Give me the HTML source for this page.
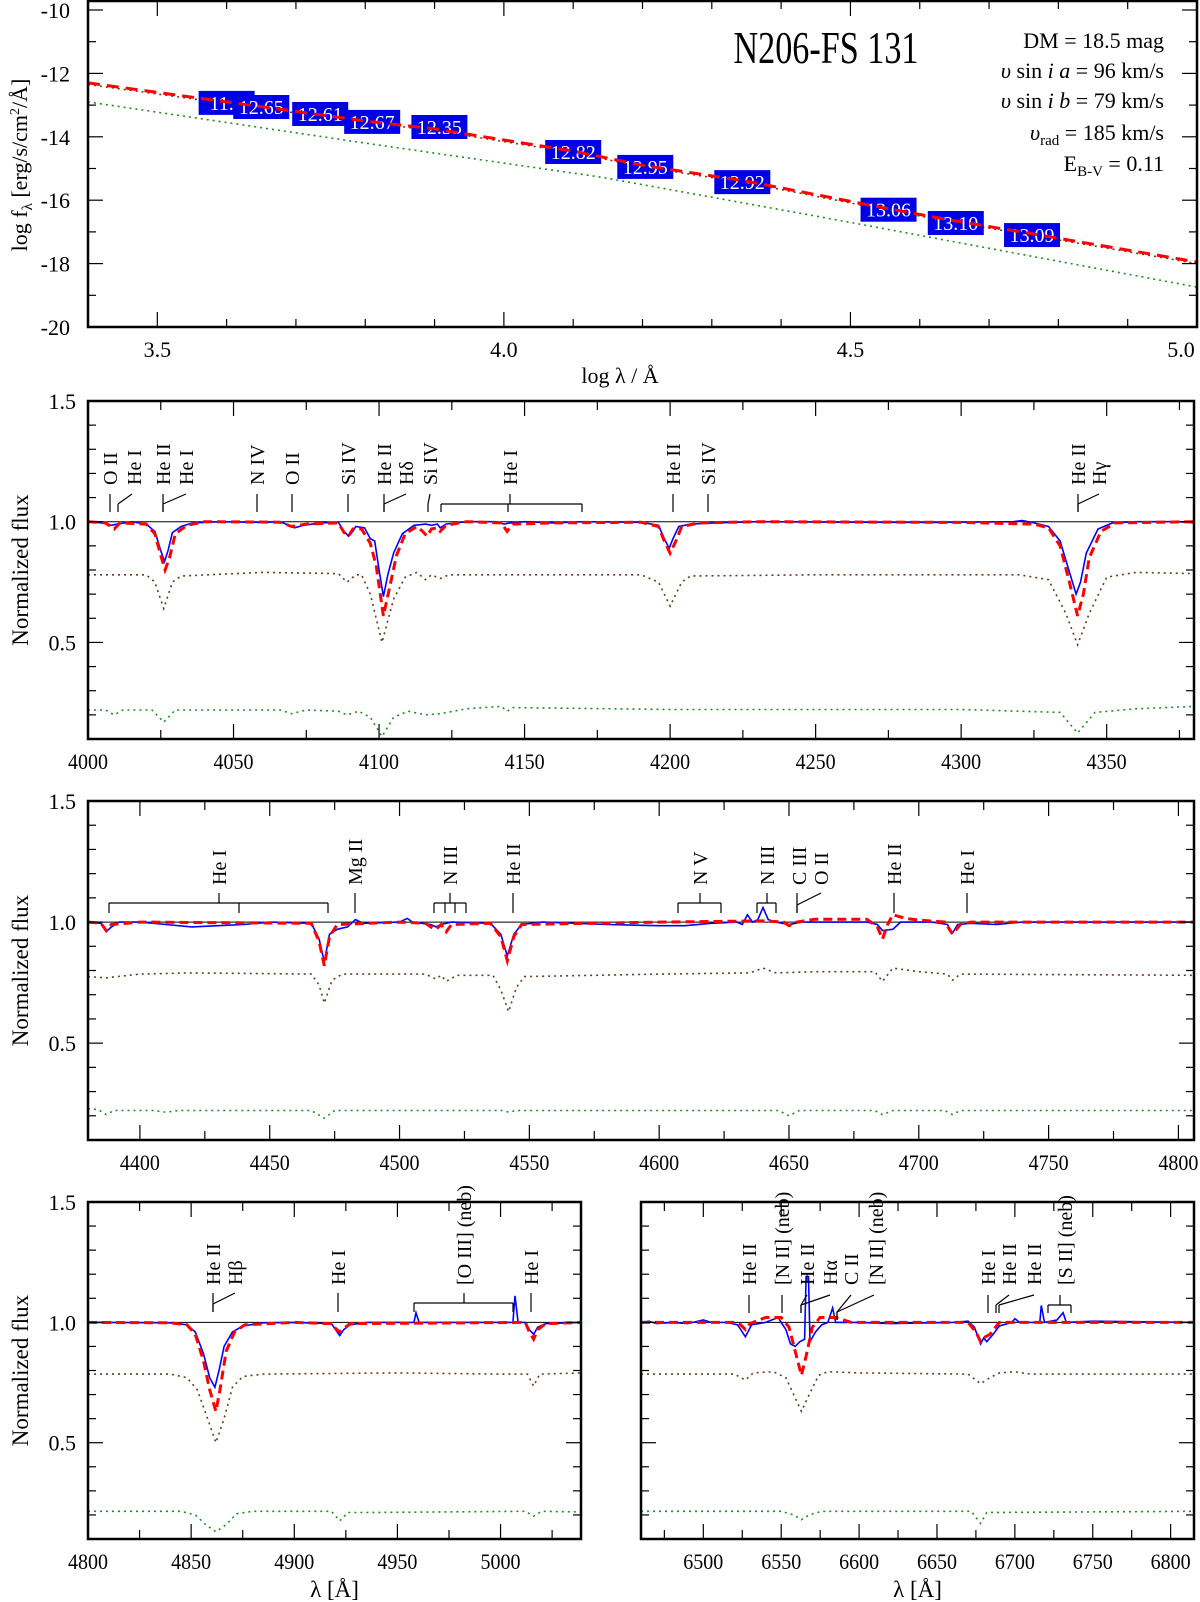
<!DOCTYPE html>
<html><head><meta charset="utf-8"><style>
html,body{margin:0;padding:0;background:#fff;}
svg{display:block;}
svg text{font-family:"Liberation Serif","DejaVu Serif",serif;}
</style></head><body>
<svg id="fig" xmlns="http://www.w3.org/2000/svg" width="1200" height="1602" viewBox="0 0 1200 1602" font-family="Liberation Serif, serif"></svg>
<script>
// ---------- SED panel data ----------
const sedLogLam = [3.4, 3.6, 3.8, 3.9, 4.1, 4.2, 4.35, 4.55, 4.65, 4.76, 5.0];
const sedModel = [-12.3, -12.9, -13.5, -13.75, -14.45, -14.9, -15.4, -16.25, -16.65, -17.05, -17.95];
const sedStarA = [-12.35, -12.95, -13.55, -13.8, -14.5, -14.95, -15.45, -16.3, -16.7, -17.1, -18.0];
const sedStarBLogLam = [3.4, 3.8, 4.14, 4.5, 5.0];
const sedStarB = [-12.9, -14.2, -15.27, -16.7, -18.74];
const photLogLam = [3.6, 3.65, 3.735, 3.81, 3.907, 4.10, 4.204, 4.344, 4.555, 4.652, 4.762];
const photFlux = [-12.93, -13.06, -13.28, -13.53, -13.69, -14.48, -14.95, -15.43, -16.3, -16.72, -17.1];
const photMag = ["11.7", "12.65", "12.61", "12.67", "12.35", "12.82", "12.95", "12.92", "13.06", "13.10", "13.09"];
const sedXTicks = [3.5, 4.0, 4.5, 5.0];
const sedYTicks = [-10, -12, -14, -16, -18, -20];

// ---------- Panel 2 (4000-4380) ----------
const p2Obs = [[4000,1.0],[4005,0.995],[4008,0.985],[4010,0.99],[4015,1.0],[4020,0.99],[4023,0.96],[4025,0.88],[4026.3,0.835],[4027.5,0.88],[4029,0.955],[4032,0.98],[4036,0.995],[4045,1.0],[4060,0.997],[4066,1.0],[4069,0.985],[4071,0.975],[4074,0.985],[4080,0.995],[4086,0.998],[4088,0.96],[4089.5,0.94],[4091,0.96],[4092,0.98],[4095,0.975],[4097,0.93],[4098.5,0.92],[4100,0.8],[4101.5,0.69],[4103,0.78],[4105,0.87],[4108,0.95],[4112,0.985],[4116,0.99],[4118,0.985],[4120,0.99],[4121,0.975],[4123,0.99],[4130,1.0],[4140,1.0],[4143,0.99],[4145,0.995],[4150,1.0],[4160,0.995],[4170,1.0],[4190,0.998],[4196,0.985],[4198,0.93],[4199.7,0.89],[4201,0.93],[4203,0.98],[4207,0.99],[4215,0.995],[4230,1.0],[4260,0.998],[4290,0.997],[4318,1.0],[4321,1.005],[4325,0.995],[4330,0.98],[4334,0.92],[4337,0.8],[4339.5,0.70],[4341,0.75],[4343,0.87],[4347,0.97],[4352,0.995],[4360,1.0],[4375,1.0],[4380,0.995]];
const p2Mod = [[4000,1.0],[4006,0.995],[4009,0.97],[4011,0.995],[4020,0.99],[4023,0.95],[4025,0.86],[4026.5,0.80],[4028,0.85],[4030,0.95],[4034,0.985],[4040,1.0],[4066,0.998],[4070,0.98],[4075,0.99],[4086,0.995],[4088,0.955],[4089.5,0.94],[4091,0.97],[4094,0.97],[4097,0.91],[4099,0.82],[4101.5,0.61],[4103.5,0.72],[4106,0.86],[4109,0.95],[4113,0.98],[4115,0.96],[4116.5,0.94],[4118,0.97],[4120,0.975],[4121,0.96],[4123,0.985],[4130,1.0],[4142,0.995],[4144,0.96],[4146,0.99],[4160,0.995],[4190,0.998],[4196,0.98],[4198,0.92],[4200,0.87],[4202,0.92],[4204,0.98],[4210,0.995],[4230,1.0],[4300,0.997],[4325,0.99],[4330,0.975],[4334,0.9],[4337,0.76],[4340,0.61],[4342,0.7],[4344,0.85],[4348,0.96],[4353,0.995],[4380,1.0]];
const p2Comp = [[4000,0.78],[4020,0.78],[4023,0.75],[4026,0.64],[4029,0.75],[4032,0.775],[4060,0.79],[4086,0.785],[4089,0.75],[4092,0.78],[4094,0.78],[4097,0.70],[4101,0.50],[4105,0.68],[4109,0.77],[4113,0.79],[4116,0.76],[4118,0.78],[4121,0.765],[4124,0.78],[4190,0.78],[4196,0.75],[4200,0.65],[4204,0.75],[4207,0.775],[4250,0.78],[4320,0.78],[4330,0.76],[4336,0.62],[4340,0.49],[4344,0.62],[4350,0.77],[4360,0.79],[4380,0.785]];
const p2Sec = [[4000,0.22],[4006,0.22],[4009,0.20],[4012,0.22],[4022,0.22],[4026,0.17],[4030,0.22],[4066,0.22],[4070,0.205],[4075,0.22],[4086,0.215],[4089,0.20],[4093,0.215],[4097,0.19],[4101,0.11],[4105,0.19],[4110,0.215],[4116,0.20],[4121,0.205],[4130,0.225],[4142,0.235],[4144,0.215],[4146,0.23],[4200,0.222],[4300,0.222],[4334,0.21],[4340,0.125],[4346,0.21],[4360,0.225],[4380,0.235]];

// ---------- Panel 3 (4380-4806) ----------
const p3Obs = [[4380,1.0],[4385,0.995],[4387,0.96],[4389,0.98],[4392,1.0],[4400,1.0],[4410,0.99],[4420,0.98],[4430,0.985],[4440,0.99],[4450,1.0],[4466,0.995],[4469,0.93],[4471,0.835],[4473,0.95],[4476,0.97],[4480,0.98],[4483,1.01],[4486,0.995],[4500,1.0],[4503,1.015],[4505,1.0],[4512,0.99],[4514,0.98],[4516,0.99],[4520,1.0],[4535,0.995],[4539,0.95],[4541.5,0.86],[4544,0.95],[4547,0.99],[4555,1.0],[4580,0.99],[4600,0.985],[4610,0.985],[4620,0.995],[4630,1.0],[4632,0.99],[4634,1.03],[4636,1.0],[4638,1.01],[4640,1.06],[4642,1.01],[4645,1.0],[4650,0.99],[4655,1.0],[4680,1.0],[4684,0.99],[4686,0.965],[4690,0.97],[4693,1.0],[4705,1.0],[4711,0.99],[4713,0.955],[4715,0.99],[4720,0.995],[4730,0.99],[4740,1.0],[4806,1.0]];
const p3Mod = [[4380,1.0],[4385,0.995],[4387,0.965],[4389,0.99],[4400,1.0],[4466,0.995],[4469,0.92],[4471,0.82],[4473,0.94],[4476,0.99],[4500,1.0],[4510,0.995],[4512,0.98],[4514,0.97],[4516,0.99],[4518,0.96],[4520,0.99],[4535,0.995],[4539,0.94],[4541.5,0.84],[4544,0.94],[4547,0.99],[4600,1.0],[4640,1.005],[4648,1.0],[4650,0.985],[4653,1.0],[4660,1.012],[4680,1.012],[4684,0.98],[4686,0.93],[4688,0.99],[4690,1.03],[4695,1.015],[4700,1.008],[4710,1.0],[4713,0.95],[4716,0.99],[4720,1.0],[4806,1.0]];
const p3Comp = [[4380,0.775],[4387,0.77],[4400,0.785],[4420,0.79],[4466,0.785],[4469,0.74],[4471,0.665],[4474,0.76],[4478,0.785],[4510,0.785],[4514,0.765],[4516,0.78],[4518,0.755],[4522,0.78],[4536,0.78],[4539,0.72],[4542,0.63],[4545,0.73],[4548,0.775],[4600,0.785],[4635,0.79],[4640,0.81],[4645,0.79],[4660,0.795],[4683,0.795],[4686,0.755],[4690,0.81],[4700,0.795],[4711,0.785],[4713,0.76],[4716,0.785],[4806,0.78]];
const p3Sec = [[4380,0.23],[4384,0.225],[4387,0.205],[4390,0.222],[4405,0.222],[4410,0.215],[4415,0.222],[4466,0.222],[4471,0.19],[4475,0.222],[4540,0.222],[4542,0.215],[4545,0.222],[4646,0.222],[4650,0.2],[4654,0.222],[4683,0.222],[4686,0.205],[4690,0.222],[4710,0.222],[4713,0.205],[4716,0.222],[4806,0.222]];

// ---------- Panel 4 left (4800-5040) ----------
const p4aObs = [[4800,1.0],[4840,0.998],[4848,0.99],[4852,0.96],[4856,0.87],[4859,0.77],[4861.5,0.73],[4863.5,0.8],[4866,0.9],[4870,0.96],[4875,0.985],[4885,0.998],[4900,1.0],[4918,0.995],[4920,0.97],[4922,0.945],[4924,0.97],[4927,0.99],[4935,1.0],[4958,1.0],[4959,1.04],[4960.5,1.0],[5006,1.0],[5007,1.11],[5008.5,1.0],[5012,1.0],[5014,0.97],[5016,0.95],[5018,0.98],[5022,0.995],[5040,1.0]];
const p4aMod = [[4800,1.0],[4840,0.998],[4848,0.99],[4852,0.95],[4856,0.84],[4859,0.72],[4862,0.63],[4864,0.72],[4867,0.88],[4871,0.96],[4876,0.99],[4900,1.0],[4918,0.995],[4920,0.975],[4922,0.96],[4924,0.975],[4927,0.995],[5012,1.0],[5014,0.96],[5016,0.93],[5018,0.97],[5022,0.995],[5040,1.0]];
const p4aComp = [[4800,0.785],[4840,0.785],[4848,0.77],[4853,0.72],[4858,0.6],[4862,0.50],[4866,0.6],[4870,0.73],[4875,0.775],[4885,0.785],[4950,0.79],[5000,0.785],[5013,0.785],[5016,0.735],[5019,0.785],[5040,0.79]];
const p4aSec = [[4800,0.215],[4845,0.215],[4852,0.2],[4857,0.16],[4862,0.13],[4867,0.16],[4872,0.205],[4880,0.215],[4918,0.215],[4922,0.175],[4926,0.21],[4935,0.21],[5012,0.215],[5016,0.195],[5020,0.215],[5040,0.212]];

// ---------- Panel 4 right (6460-6815) ----------
const p4bObs = [[6460,1.0],[6465,1.005],[6470,0.995],[6480,1.0],[6490,0.995],[6500,1.01],[6505,1.0],[6515,1.0],[6522,0.99],[6527,0.94],[6531,0.99],[6540,1.0],[6548,1.02],[6550,1.0],[6553,0.97],[6556,0.91],[6559,0.90],[6562,0.92],[6565,0.93],[6566,1.19],[6567.5,1.19],[6568.5,0.92],[6572,0.96],[6576,0.99],[6580,1.0],[6583,1.06],[6585,1.0],[6600,1.0],[6620,0.995],[6660,1.0],[6670,1.005],[6674,0.98],[6678,0.91],[6680,0.935],[6682,0.92],[6686,0.95],[6690,0.985],[6698,1.0],[6700,1.015],[6703,1.0],[6716,1.0],[6717,1.07],[6719,1.0],[6727,1.01],[6731,1.04],[6733,1.0],[6750,1.005],[6815,1.0]];
const p4bMod = [[6460,1.0],[6520,1.0],[6524,0.99],[6527,0.97],[6530,0.995],[6540,1.02],[6550,1.02],[6555,0.98],[6559,0.88],[6563,0.78],[6566,0.86],[6570,0.98],[6575,1.02],[6585,1.02],[6595,1.0],[6670,1.0],[6675,0.96],[6678,0.92],[6681,0.94],[6684,0.95],[6690,1.0],[6815,1.0]];
const p4bComp = [[6460,0.785],[6520,0.785],[6527,0.76],[6532,0.79],[6545,0.795],[6553,0.77],[6558,0.7],[6563,0.63],[6568,0.7],[6574,0.78],[6580,0.795],[6600,0.79],[6670,0.785],[6678,0.745],[6684,0.77],[6690,0.79],[6700,0.795],[6710,0.785],[6815,0.785]];
const p4bSec = [[6460,0.215],[6550,0.215],[6558,0.2],[6563,0.18],[6568,0.2],[6576,0.215],[6672,0.215],[6678,0.165],[6682,0.21],[6815,0.215]];

// ---------- helpers ----------
const NS = "http://www.w3.org/2000/svg";
const FONT = "Liberation Serif, DejaVu Serif, serif";
const svg = document.getElementById('fig');
function mk(tag, attrs, parent) {
  const e = document.createElementNS(NS, tag);
  for (const k in attrs) e.setAttribute(k, attrs[k]);
  if (tag === 'text') e.setAttribute('font-family', FONT);
  (parent || svg).appendChild(e);
  return e;
}
function ln(x1,y1,x2,y2,w,name){
  const e = mk('line',{x1:x1,y1:y1,x2:x2,y2:y2,stroke:'#000','stroke-width':w||1.2});
  
  
  return e;
}
function tx(x,y,s,size,anchor,name,extra){
  const e = mk('text',Object.assign({x:x,y:y,'font-size':size,'text-anchor':anchor||'middle',fill:'#000'},extra||{}));
  e.textContent = s;
  
  
  return e;
}
function pathFrom(pts, sx, sy){
  return pts.map((p,i)=>(i?'L':'M')+sx(p[0]).toFixed(1)+','+sy(p[1]).toFixed(1)).join('');
}

// ---------- SED panel ----------
(function(){
  const L=88,R=1197,T=1,B=327;
  const sx = v => L + (v-3.4)/(5.0-3.4)*(R-L);
  const sy = v => 10 + (-10 - v)*31.7;
  const clip = mk('clipPath',{id:'c1'});
  mk('rect',{x:L,y:T,width:R-L,height:B-T},clip);
  const g = mk('g',{'clip-path':'url(#c1)'});
  
  
  const pts = sedLogLam.map((v,i)=>[v,sedModel[i]]);
  const ptsA = sedLogLam.map((v,i)=>[v,sedStarA[i]]);
  const ptsB = sedStarBLogLam.map((v,i)=>[v,sedStarB[i]]);
  let e;
  e = mk('path',{d:pathFrom(ptsB,sx,sy),fill:'none',stroke:'#228B22','stroke-width':1.6,'stroke-dasharray':'2,4'},g);
   
  e = mk('path',{d:pathFrom(ptsA,sx,sy),fill:'none',stroke:'#6b3a1a','stroke-width':1.6,'stroke-dasharray':'2,4'},g);
   
  photLogLam.forEach((v,i)=>{
    const cx=sx(v), cy=sy(photFlux[i]);
    const r = mk('rect',{x:cx-28,y:cy-12,width:56,height:24,fill:'#0000e6'},g);
     
    const t = tx(cx,cy+7,photMag[i],20,'middle','photometry-mag',{fill:'#fff'});
    g.appendChild(t);
  });
  e = mk('path',{d:pathFrom(pts,sx,sy),fill:'none',stroke:'#ff0000','stroke-width':3,'stroke-dasharray':'12,7'},g);
   
  e = mk('rect',{x:L,y:T,width:R-L,height:B-T,fill:'none',stroke:'#000','stroke-width':2.5});
   
  for(let v=3.4; v<=5.001; v+=0.1){
    const x=sx(v), maj=Math.abs(v*2-Math.round(v*2))<0.01;
    ln(x,B,x,B-(maj?15:8)); ln(x,T,x,T+(maj?15:8));
  }
  sedXTicks.forEach(v=>tx(Math.min(sx(v),1181),357,v.toFixed(1),22,'middle','x-tick-label'));
  for(let v=-10; v>=-20; v-=1){
    const y=sy(v), maj=(v%2===0);
    ln(L,y,L+(maj?15:8),y); ln(R,y,R-(maj?15:8),y);
  }
  sedYTicks.forEach(v=>tx(70,sy(v)+8,String(v),22,'end','y-tick-label'));
  tx(620,383,'log λ / Å',22,'middle','x-axis-title');
  const yt = mk('text',{x:0,y:0,'font-size':22,'text-anchor':'middle',transform:'translate(27,165) rotate(-90)'});
   
  yt.innerHTML = 'log f<tspan font-size="15" dy="5">λ</tspan><tspan dy="-5"> [erg/s/cm</tspan><tspan font-size="14" dy="-8">2</tspan><tspan dy="8">/Å]</tspan>';
  tx(826,63,'N206-FS 131',46,'middle','star-name-title',{textLength:185,lengthAdjust:'spacingAndGlyphs'});
  const info = [
    ['DM = 18.5 mag',48],
    ['<tspan font-style="italic">υ</tspan> sin <tspan font-style="italic">i a</tspan> = 96 km/s',78],
    ['<tspan font-style="italic">υ</tspan> sin <tspan font-style="italic">i b</tspan> = 79 km/s',108],
    ['<tspan font-style="italic">υ</tspan><tspan font-size="15" dy="5">rad</tspan><tspan dy="-5"> = 185 km/s</tspan>',140],
    ['E<tspan font-size="15" dy="5">B-V</tspan><tspan dy="-5">  = 0.11</tspan>',171]
  ];
  info.forEach(p=>{
    const t = mk('text',{x:1164,y:p[1],'font-size':22,'text-anchor':'end'});
     
    t.innerHTML = p[0];
  });
})();

// ---------- spectral panels ----------
function panel(cfg){
  const {id,L,R,T,B,x0,x1,data,ticks,minor,labels,showY,xtitle} = cfg;
  const sx = v => L + (v-x0)/(x1-x0)*(R-L);
  const sy = v => T + (1.5 - v)/(1.4)*(B-T);
  const clip = mk('clipPath',{id:'c'+id});
  mk('rect',{x:L,y:T,width:R-L,height:B-T},clip);
  const g = mk('g',{'clip-path':'url(#c'+id+')'});
  
  
  let e = mk('line',{x1:L,x2:R,y1:sy(1),y2:sy(1),stroke:'#000','stroke-width':1},g);
   
  e = mk('path',{d:pathFrom(data.sec,sx,sy),fill:'none',stroke:'#228B22','stroke-width':1.6,'stroke-dasharray':'2,4'},g);
   
  e = mk('path',{d:pathFrom(data.comp,sx,sy),fill:'none',stroke:'#6b3a1a','stroke-width':1.6,'stroke-dasharray':'2,4'},g);
   
  e = mk('path',{d:pathFrom(data.obs,sx,sy),fill:'none',stroke:'#0000ff','stroke-width':1.6},g);
   
  e = mk('path',{d:pathFrom(data.mod,sx,sy),fill:'none',stroke:'#ff0000','stroke-width':3,'stroke-dasharray':'9,5'},g);
   
  e = mk('rect',{x:L,y:T,width:R-L,height:B-T,fill:'none',stroke:'#000','stroke-width':2.5});
   
  for(let v=Math.ceil(x0/minor)*minor; v<=x1; v+=minor){
    const maj = ticks.indexOf(v)>=0, x=sx(v);
    ln(x,B,x,B-(maj?15:9)); ln(x,T,x,T+(maj?15:9));
  }
  ticks.forEach(v=>tx(sx(v),B+30,String(v),22,'middle','x-tick-label',{textLength:40,lengthAdjust:'spacingAndGlyphs'}));
  for(let k=2;k<=15;k++){
    const v=k/10, y=sy(v), maj=(k%5===0);
    ln(L,y,L+(maj?15:8),y); ln(R,y,R-(maj?15:8),y);
    if(maj && showY) tx(L-12,y+8,v.toFixed(1),22,'end','y-tick-label');
  }
  if(showY){
    tx(0,0,'Normalized flux',23,'middle','y-axis-title',{transform:'translate(28,'+(sy(0.8))+') rotate(-90)'});
  }
  if(xtitle){
    const t = mk('text',{x:(L+R)/2,y:1597,'font-size':23,'text-anchor':'middle'});
     
    t.textContent = 'λ [Å]';
  }
  labels.forEach(lb=>{
    const [s,tX,tY0,tY1,textX,textY,kind,ex] = lb;
    if(kind==='v'){ ln(tX,tY0,tX,tY1,1.2,'line-id-tick'); }
    else if(kind==='s'){ ln(tX,tY1,tX,tY1-8,1.2,'line-id-tick'); ln(tX,tY1-8,ex,tY0,1.2,'line-id-tick'); }
    else if(kind==='b'){
      const [a,b,inner]=ex;
      ln(a,tY0+10,b,tY0+10,1.2,'line-id-bracket');
      [a,b].concat(inner||[]).forEach(x=>ln(x,tY0+10,x,tY1,1.2,'line-id-tick'));
      ln(tX,tY0,tX,tY0+10,1.2,'line-id-tick');
    }
    if(s){
      const t = mk('text',{x:0,y:0,'font-size':20,'text-anchor':'start',transform:'translate('+(textX+7)+','+textY+') rotate(-90)'});
       
      t.textContent = s;
    }
  });
}

panel({id:2,L:88,R:1194,T:401,B:739,x0:4000,x1:4380,minor:25,
  ticks:[4000,4050,4100,4150,4200,4250,4300,4350],showY:true,
  data:{obs:p2Obs,mod:p2Mod,comp:p2Comp,sec:p2Sec},
  labels:[
    ['O II',110,494,512,110,485,'v'],
    ['He I',118,494,512,134,485,'s',132],
    ['He II',163,494,512,163,485,'v'],
    ['He I',163,494,512,186,485,'s',186],
    ['N IV',257,494,512,257,485,'v'],
    ['O II',292,494,512,292,485,'v'],
    ['Si IV',348,494,512,348,485,'v'],
    ['He II',384,494,512,384,485,'v'],
    ['Hδ',384,494,512,406,485,'s',406],
    ['Si IV',428,494,512,430,485,'s',430],
    ['He I',510,494,512,510,485,'b',[441,582,[508]]],
    ['He II',673,494,512,673,485,'v'],
    ['Si IV',708,494,512,708,485,'v'],
    ['He II',1078,494,512,1078,485,'v'],
    ['Hγ',1078,494,512,1099,485,'s',1099]
  ]});

panel({id:3,L:88,R:1194,T:801,B:1140,x0:4380,x1:4806,minor:25,
  ticks:[4400,4450,4500,4550,4600,4650,4700,4750,4800],showY:true,
  data:{obs:p3Obs,mod:p3Mod,comp:p3Comp,sec:p3Sec},
  labels:[
    ['He I',219,893,913,219,885,'b',[109,328,[239]]],
    ['Mg II',355,893,913,355,885,'v'],
    ['N III',450,893,913,450,885,'b',[434,466,[445,455]]],
    ['He II',513,893,913,513,885,'v'],
    ['N V',700,893,913,700,885,'b',[678,721,[]]],
    ['N III',767,893,913,767,885,'b',[757,776,[]]],
    ['C III',797,893,913,799,885,'s',797],
    ['O II',797,893,913,821,885,'s',821],
    ['He II',894,893,913,894,885,'v'],
    ['He I',967,893,913,967,885,'v']
  ]});

panel({id:4,L:88,R:581,T:1202,B:1539,x0:4800,x1:5039,minor:25,
  ticks:[4800,4850,4900,4950,5000],showY:true,xtitle:true,
  data:{obs:p4aObs,mod:p4aMod,comp:p4aComp,sec:p4aSec},
  labels:[
    ['He II',213,1293,1312,213,1285,'v'],
    ['Hβ',213,1293,1312,235,1285,'s',235],
    ['He I',338,1293,1312,338,1285,'v'],
    ['[O III] (neb)',464,1293,1312,464,1285,'b',[414,513,[]]],
    ['He I',531,1293,1312,531,1285,'v']
  ]});

panel({id:5,L:641,R:1194,T:1202,B:1539,x0:6460,x1:6815,minor:25,
  ticks:[6500,6550,6600,6650,6700,6750,6800],showY:false,xtitle:true,
  data:{obs:p4bObs,mod:p4bMod,comp:p4bComp,sec:p4bSec},
  labels:[
    ['He II',749,1295,1313,749,1285,'v'],
    ['[N II] (neb)',782,1295,1313,782,1285,'v'],
    ['He II',801,1295,1313,807,1285,'s',807],
    ['Hα',801,1295,1313,830,1285,'s',830],
    ['C II',837,1295,1320,851,1285,'s',851],
    ['[N II] (neb)',837,1295,1320,876,1285,'s',874],
    ['He I',988,1295,1313,988,1285,'v'],
    ['He II',996,1295,1313,1009,1285,'s',1009],
    ['He II',999,1295,1313,1034,1285,'s',1034],
    ['[S II] (neb)',1060,1295,1313,1065,1285,'b',[1048,1071,[]]]
  ]});
</script>
</body></html>
